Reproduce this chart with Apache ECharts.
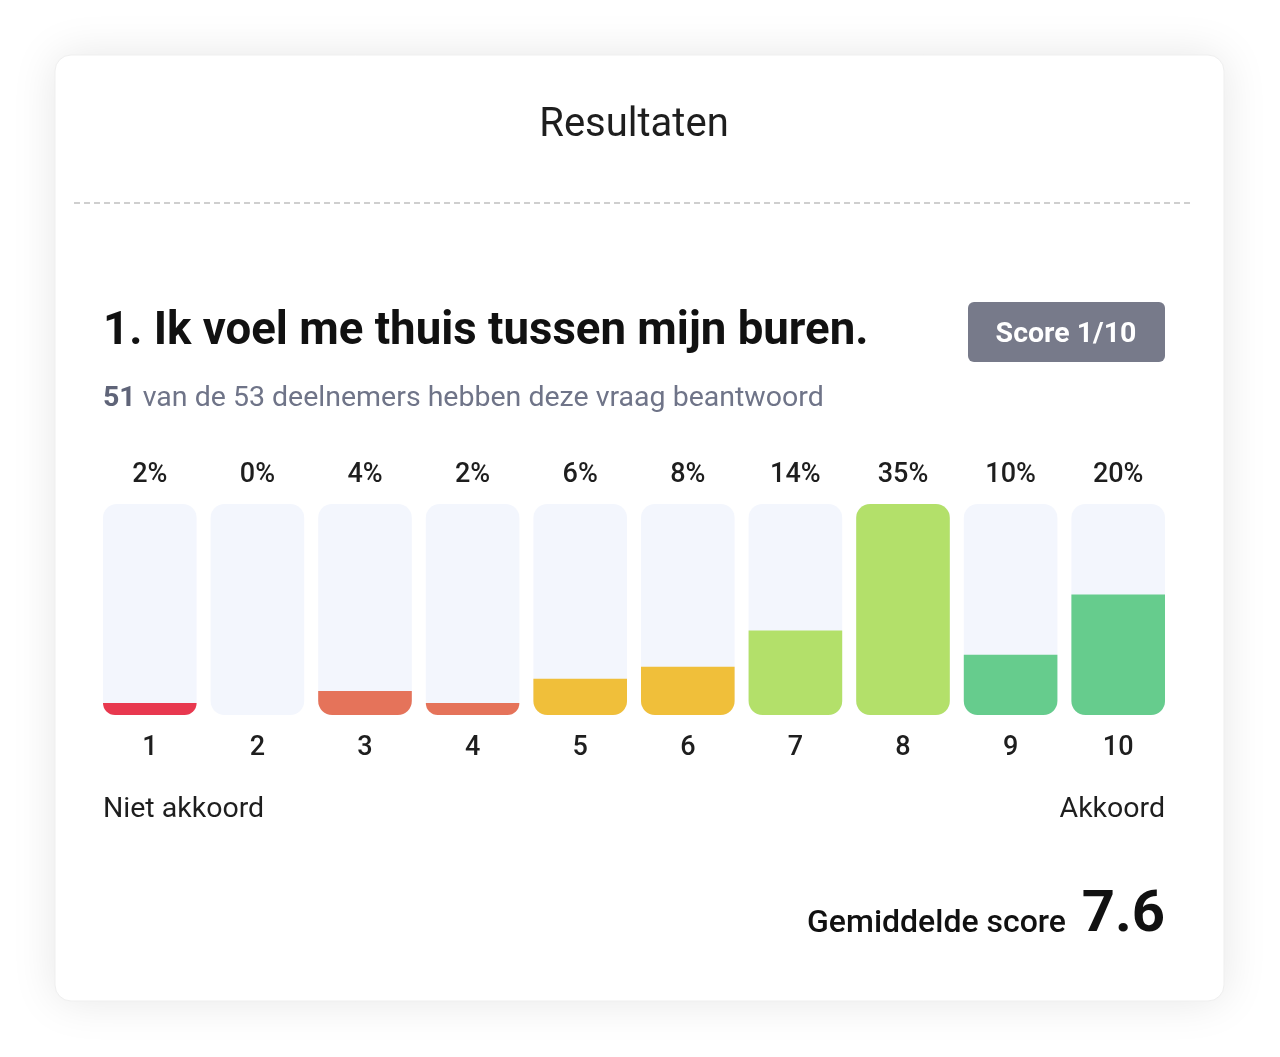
<!DOCTYPE html>
<html>
<head>
<meta charset="utf-8">
<title>Resultaten</title>
<script src="https://cdn.jsdelivr.net/npm/echarts@6/dist/echarts.min.js"></script>
<style>
  html, body { margin: 0; padding: 0; background: #fff; }
  #chart { width: 1280px; height: 1057px; }
</style>
</head>
<body>
<div id="chart"></div>
<script>
// Data
const scores = ["1", "2", "3", "4", "5", "6", "7", "8", "9", "10"];
const percentages = [2, 0, 4, 2, 6, 8, 14, 35, 10, 20];
const barColors = ["#e8384f", "#e8384f", "#e5735a", "#e5735a", "#f0bf3a",
                   "#f0bf3a", "#b3e06a", "#b3e06a", "#66cc8d", "#66cc8d"];
const answered = 51;
const participants = 53;
const averageScore = "7.6";
const questionTitle = "1. Ik voel me thuis tussen mijn buren.";

const FONT = "Roboto, 'Noto Sans', sans-serif";
const maxPct = Math.max(...percentages);

const chart = echarts.init(document.getElementById("chart"), null, { renderer: "canvas" });

const option = {
  backgroundColor: "#fff",
  animation: false,
  grid: { left: 96, right: 108, top: 504, height: 211, containLabel: false },
  xAxis: [
    {
      type: "category",
      data: scores,
      position: "bottom",
      axisLine: { show: false },
      axisTick: { show: false },
      axisLabel: {
        margin: 20,
        fontFamily: FONT,
        fontSize: 27,
        fontWeight: 500,
        color: "#1e1e1e",
      },
    },
    {
      // top axis shows the percentage per score
      type: "category",
      data: percentages.map((p) => p + "%"),
      position: "top",
      axisLine: { show: false },
      axisTick: { show: false },
      axisLabel: {
        margin: 15,
        fontFamily: FONT,
        fontSize: 27,
        fontWeight: 500,
        color: "#1e1e1e",
      },
    },
  ],
  yAxis: { type: "value", min: 0, max: maxPct, show: false },
  series: [
    {
      type: "bar",
      xAxisIndex: 0,
      barCategoryGap: "13%",
      showBackground: true,
      backgroundStyle: { color: "#f3f6fd", borderRadius: 14 },
      data: percentages.map((v, i) => ({
        value: v,
        itemStyle: {
          color: barColors[i],
          borderRadius: v === maxPct ? 14 : [0, 0, 14, 14],
        },
      })),
    },
  ],
  graphic: [
    // card
    {
      type: "rect",
      z: -10,
      shape: { x: 55, y: 55, width: 1169, height: 946, r: 16 },
      style: {
        fill: "#fff",
        stroke: "#efefef",
        lineWidth: 1,
        shadowBlur: 45,
        shadowColor: "rgba(0,0,0,0.10)",
      },
    },
    {
      type: "text",
      x: 634, y: 126,
      style: {
        text: "Resultaten",
        fontFamily: FONT, fontSize: 40, fill: "#1e1e1e",
        align: "center", verticalAlign: "middle",
      },
    },
    {
      type: "line",
      shape: { x1: 74, y1: 203, x2: 1194, y2: 203 },
      style: { stroke: "#cfcfcf", lineWidth: 2, lineDash: [6, 4] },
    },
    {
      type: "text",
      x: 103, y: 333,
      style: {
        text: questionTitle,
        fontFamily: FONT, fontSize: 45.6, fontWeight: "bold", fill: "#111",
        align: "left", verticalAlign: "middle",
      },
    },
    {
      type: "text",
      x: 103, y: 399,
      style: {
        text: "{b|" + answered + "}{n| van de " + participants + " deelnemers hebben deze vraag beantwoord}",
        align: "left", verticalAlign: "middle",
        rich: {
          b: { fontFamily: FONT, fontSize: 28.5, fontWeight: "bold", fill: "#5f6478" },
          n: { fontFamily: FONT, fontSize: 28.5, fill: "#6f7488" },
        },
      },
    },
    {
      type: "rect",
      shape: { x: 968, y: 302, width: 197, height: 60, r: 6 },
      style: { fill: "#777a8a" },
    },
    {
      type: "text",
      x: 1066, y: 335,
      style: {
        text: "Score 1/10",
        fontFamily: FONT, fontSize: 28.5, fontWeight: "bold", fill: "#fff",
        align: "center", verticalAlign: "middle",
      },
    },
    {
      type: "text",
      x: 103, y: 810,
      style: {
        text: "Niet akkoord",
        fontFamily: FONT, fontSize: 28.5, fill: "#1e1e1e",
        align: "left", verticalAlign: "middle",
      },
    },
    {
      type: "text",
      x: 1165, y: 810,
      style: {
        text: "Akkoord",
        fontFamily: FONT, fontSize: 28.5, fill: "#1e1e1e",
        align: "right", verticalAlign: "middle",
      },
    },
    {
      type: "text",
      x: 1066, y: 924,
      style: {
        text: "Gemiddelde score",
        fontFamily: FONT, fontSize: 32, fontWeight: 500, fill: "#111",
        align: "right", verticalAlign: "middle",
      },
    },
    {
      type: "text",
      x: 1165, y: 916,
      style: {
        text: averageScore,
        fontFamily: FONT, fontSize: 58, fontWeight: "bold", fill: "#111",
        align: "right", verticalAlign: "middle",
      },
    },
  ],
};

chart.setOption(option);
</script>
</body>
</html>
